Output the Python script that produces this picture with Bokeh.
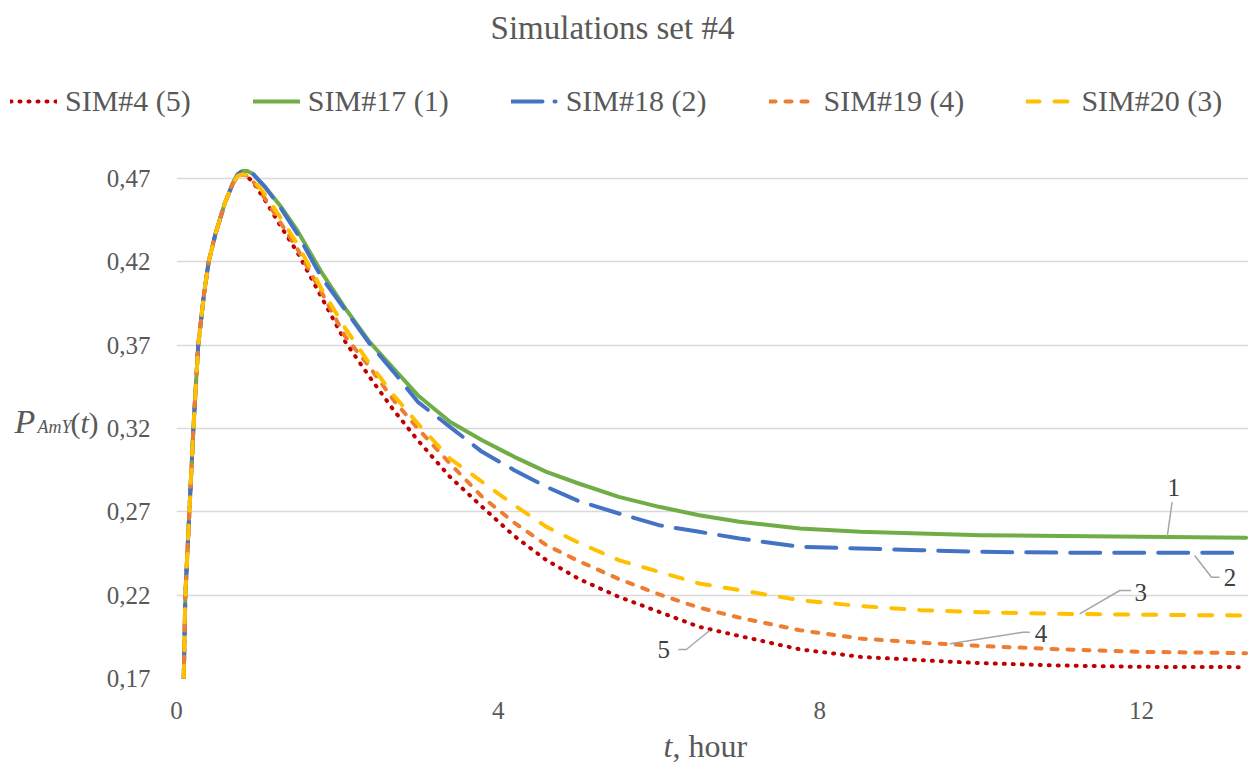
from bokeh.plotting import figure
from bokeh.layouts import column, row
from bokeh.models import (ColumnDataSource, Legend, LegendItem, FixedTicker,
                          CustomJSTickFormatter, Range1d)
from bokeh.embed import file_html
from bokeh.resources import INLINE
from bokeh.core.properties import value

# ---------------- data ----------------
t_hours = [0.09, 0.11, 0.16, 0.21, 0.27, 0.34, 0.40, 0.48, 0.60, 0.70, 0.76, 0.82, 0.88,
           0.95, 1.1, 1.3, 1.5, 1.8, 2.1, 2.4, 2.7, 3.0, 3.4, 3.8, 4.2, 4.6, 5.0, 5.5,
           6.0, 6.5, 7.0, 7.75, 8.5, 9.25, 10.0, 11.0, 12.0, 13.3]

rise = [0.170, 0.220, 0.270, 0.320, 0.370, 0.400, 0.420, 0.436, 0.455, 0.467]

sim4 = rise + [0.4715, 0.4725, 0.471, 0.468, 0.457, 0.441, 0.426, 0.399, 0.372, 0.351,
               0.331, 0.313, 0.291, 0.273, 0.2555, 0.241, 0.2298, 0.219, 0.210, 0.201,
               0.1955, 0.1875, 0.183, 0.181, 0.1792, 0.1778, 0.177, 0.1768]
sim17 = rise + [0.4725, 0.4745, 0.4745, 0.4728, 0.465, 0.453, 0.439, 0.414, 0.392, 0.372,
                0.356, 0.340, 0.324, 0.313, 0.303, 0.294, 0.287, 0.279, 0.273, 0.268,
                0.264, 0.260, 0.258, 0.257, 0.256, 0.2555, 0.255, 0.2545]
sim18 = rise + [0.4725, 0.4745, 0.4745, 0.4728, 0.465, 0.452, 0.437, 0.411, 0.391, 0.371,
                0.354, 0.336, 0.321, 0.306, 0.295, 0.285, 0.2765, 0.269, 0.262, 0.258,
                0.254, 0.249, 0.248, 0.247, 0.246, 0.2455, 0.2455, 0.2455]
sim19 = rise + [0.4715, 0.4725, 0.4715, 0.4685, 0.458, 0.443, 0.428, 0.402, 0.375, 0.357,
                0.337, 0.320, 0.299, 0.279, 0.2635, 0.250, 0.2405, 0.2297, 0.2205, 0.2125,
                0.2065, 0.199, 0.194, 0.1915, 0.1895, 0.1875, 0.186, 0.1852]
sim20 = rise + [0.4715, 0.4725, 0.472, 0.4695, 0.4605, 0.446, 0.431, 0.404, 0.380, 0.359,
                0.340, 0.323, 0.302, 0.288, 0.274, 0.261, 0.2515, 0.241, 0.234, 0.227,
                0.223, 0.217, 0.2135, 0.211, 0.2098, 0.2088, 0.2083, 0.2078]

series_names = ["SIM#4 (5)", "SIM#17 (1)", "SIM#18 (2)", "SIM#19 (4)", "SIM#20 (3)"]
series_values = [sim4, sim17, sim18, sim19, sim20]

y_ticks = [0.17, 0.22, 0.27, 0.32, 0.37, 0.42, 0.47]
x_ticks = [0, 4, 8, 12]

callout_text = ["1", "2", "3", "4", "5"]
callout_tx = [12.40, 13.10, 11.99, 10.75, 6.06]
callout_ty = [0.2848, 0.2306, 0.2218, 0.1972, 0.1872]
callout_lx = [[12.38, 12.32], [12.66, 12.87, 12.97], [11.23, 11.73, 11.87],
              [9.615, 10.525, 10.61], [6.24, 6.34, 6.63]]
callout_ly = [[0.2758, 0.2552], [0.2438, 0.2308, 0.2308], [0.2088, 0.2228, 0.2228],
              [0.1908, 0.1978, 0.1978], [0.1874, 0.1874, 0.1988]]

title_text = "Simulations set #4"
x_title_parts = ["t", ", hour"]
y_title_parts = ["P", "AmY", "(", "t", ")"]

# ---------------- styling ----------------
FONT = "Liberation Serif"
GREY = "#595959"
colors = ["#C00000", "#70AD47", "#4472C4", "#ED7D31", "#FFC000"]
dashes = ["1 8", "solid", "30 14", "6 10", "13 15"]
legend_dashes = ["1 8", "solid", "31 12 1 20", "6 10", "13 15"]

W, H = 1256, 764
HEADER_H, FOOTER_H, LEFT_W = 163, 36, 102
MID_H = H - HEADER_H - FOOTER_H
FRAME_H = 515


def text_fig(w, h, bottom=0):
    f = figure(width=w, height=h, output_backend="svg", toolbar_location=None,
               x_range=Range1d(0, w), y_range=Range1d(h - bottom, 0),
               x_axis_location=None, y_axis_location=None,
               min_border=0, min_border_left=0, min_border_right=0,
               min_border_top=0, min_border_bottom=bottom)
    f.grid.visible = False
    f.outline_line_color = None
    f.background_fill_color = "white"
    return f


# ---------- main plot ----------
p = figure(width=W - LEFT_W, height=MID_H, output_backend="svg", toolbar_location=None,
           x_range=Range1d(0, 13.33), y_range=Range1d(0.17, 0.479),
           min_border_left=74, min_border_right=8, min_border_top=0,
           min_border_bottom=MID_H - FRAME_H)
p.outline_line_color = None
p.background_fill_color = "white"
p.xgrid.grid_line_color = None
p.ygrid.grid_line_color = "#D9D9D9"
p.ygrid.grid_line_width = 1.5
p.ygrid.ticker = FixedTicker(ticks=y_ticks)

for ax in (p.xaxis, p.yaxis):
    ax.axis_line_color = None
    ax.major_tick_line_color = None
    ax.minor_tick_line_color = None
    ax.major_tick_out = 0
    ax.major_tick_in = 0
    ax.major_label_text_font = FONT
    ax.major_label_text_font_size = "25px"
    ax.major_label_text_color = GREY

p.yaxis.ticker = FixedTicker(ticks=y_ticks)
p.yaxis.formatter = CustomJSTickFormatter(code="return tick.toFixed(2).replace('.', ',');")
p.yaxis.major_label_standoff = 26
p.xaxis.ticker = FixedTicker(ticks=x_ticks)
p.xaxis.major_label_standoff = 23

for vals, col, dash in zip(series_values, colors, dashes):
    src = ColumnDataSource(data=dict(t=t_hours, v=vals))
    p.line("t", "v", source=src, line_color=col, line_width=4,
           line_dash=dash, line_cap="round", line_join="round")

p.multi_line(xs=callout_lx, ys=callout_ly, line_color="#A6A6A6", line_width=1.5)
p.text(x=callout_tx, y=callout_ty, text=callout_text, text_font=value(FONT),
       text_font_size="25px", text_color="#404040", text_align="center",
       text_baseline="middle")

# ---------- header: title + legend ----------
header = text_fig(W, HEADER_H)
header.text(x=[612], y=[27], text=[title_text], text_font=value(FONT),
            text_font_size="33px", text_color=GREY, text_align="center",
            text_baseline="middle")
leg_renderers = []
for vals, col, dash in zip(series_values, colors, legend_dashes):
    # hidden proxies: they carry the line styles for the legend only
    r = header.line(x=t_hours, y=vals, line_color=col, line_width=4,
                    line_dash=dash, line_cap="round")
    r.visible = False
    leg_renderers.append(r)
legend = Legend(items=[LegendItem(label=n, renderers=[r]) for n, r in zip(series_names, leg_renderers)],
                orientation="horizontal", location=(10, 45),
                glyph_width=47, glyph_height=30, label_standoff=8, spacing=62,
                padding=0, margin=0, border_line_color=None, background_fill_alpha=0,
                inactive_fill_alpha=0,
                label_text_font=FONT, label_text_font_size="30px",
                label_text_color=GREY, label_height=30, label_text_baseline="middle")
header.add_layout(legend)

# ---------- left: y-axis title (frame aligned with the main plot frame) ----------
left = text_fig(LEFT_W, MID_H, bottom=MID_H - FRAME_H)
base = 432 - HEADER_H  # baseline measured from the frame top
left.text(x=[14], y=[base - 11.5], text=[y_title_parts[0]], text_font=value(FONT),
          text_font_style="italic", text_font_size="34px", text_color=GREY,
          text_baseline="middle")
left.text(x=[37], y=[base - 6], text=[y_title_parts[1]], text_font=value(FONT),
          text_font_style="italic", text_font_size="18px", text_color=GREY,
          text_baseline="middle")
left.text(x=[70], y=[base - 10], text=[y_title_parts[2]], text_font=value(FONT),
          text_font_size="30px", text_color=GREY, text_baseline="middle")
left.text(x=[80], y=[base - 10], text=[y_title_parts[3]], text_font=value(FONT),
          text_font_style="italic", text_font_size="30px", text_color=GREY,
          text_baseline="middle")
left.text(x=[88], y=[base - 10], text=[y_title_parts[4]], text_font=value(FONT),
          text_font_size="30px", text_color=GREY, text_baseline="middle")

# ---------- footer: x-axis title ----------
footer = text_fig(W, FOOTER_H)
footer.text(x=[663], y=[17], text=[x_title_parts[0]], text_font=value(FONT),
            text_font_style="italic", text_font_size="32px", text_color=GREY,
            text_baseline="middle")
footer.text(x=[672], y=[17], text=[x_title_parts[1]], text_font=value(FONT),
            text_font_size="32px", text_color=GREY, text_baseline="middle")

layout = column(header, row(left, p, spacing=0), footer, spacing=0)
open("out.html", "w").write(file_html(layout, INLINE))
